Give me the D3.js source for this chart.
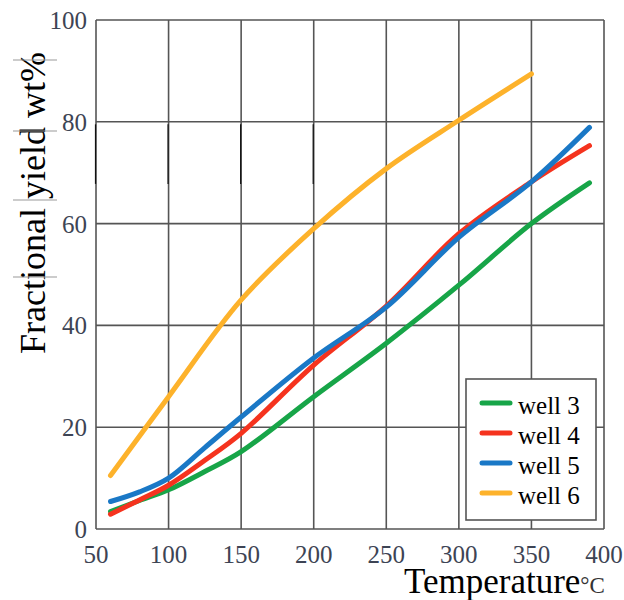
<!DOCTYPE html>
<html>
<head>
<meta charset="utf-8">
<script src="https://cdn.jsdelivr.net/npm/d3@7"></script>
<style>
  body { margin: 0; background: #fff; }
</style>
</head>
<body>
<svg id="chart" width="624" height="600"></svg>
<script>
// temperatures (°C) at which each curve was read
var temps = [60, 80, 100, 125, 150, 200, 250, 300, 350, 390];
var well3 = [3.4, 5.6, 7.7, 11.3, 15.2, 26, 36.5, 47.9, 60, 68];
var well4 = [2.9, 5.7, 8.6, 13.5, 18.8, 32.2, 43.8, 58, 68.2, 75.3];
var well5 = [5.4, 7.3, 10, 16.0, 22, 33.6, 43.6, 57.3, 68.2, 78.9];
var temps6 = [60, 100, 150, 200, 250, 300, 350];
var well6 = [10.5, 26, 45, 59, 70.8, 80.3, 89.4];
var xTicks = [50, 100, 150, 200, 250, 300, 350, 400];
var yTicks = [0, 20, 40, 60, 80, 100];
var seriesNames = ["well 3", "well 4", "well 5", "well 6"];
var seriesColors = ["#17a548", "#f5331e", "#1a78c6", "#fdb22b"];

var serif = "Liberation Serif";
var svg = d3.select("#chart");
var margin = {top: 20, right: 20, bottom: 71, left: 96};
var width = 604 - margin.left, height = 529 - margin.top;

var x = d3.scaleLinear().domain([50, 400]).range([margin.left, margin.left + width]);
var y = d3.scaleLinear().domain([0, 100]).range([margin.top + height, margin.top]);

var g = svg.append("g");

// grid
g.selectAll(".vgrid").data(xTicks).enter().append("line")
    .attr("x1", function(d) { return x(d); }).attr("x2", function(d) { return x(d); })
    .attr("y1", y(0)).attr("y2", y(100))
    .attr("stroke", "#555").attr("stroke-width", 1.6);
g.selectAll(".hgrid").data(yTicks).enter().append("line")
    .attr("y1", function(d) { return y(d); }).attr("y2", function(d) { return y(d); })
    .attr("x1", x(50)).attr("x2", x(400))
    .attr("stroke", "#555").attr("stroke-width", 1.6);

// scan artefacts on the grid
g.selectAll(".mark").data([50, 100, 150, 200]).enter().append("line")
    .attr("x1", function(d) { return x(d) - 0.5; }).attr("x2", function(d) { return x(d) - 0.5; })
    .attr("y1", y(79.5)).attr("y2", y(67.8))
    .attr("stroke", "#111").attr("stroke-width", 1.2);

// axes labels
g.selectAll(".ytick").data(yTicks).enter().append("text")
    .attr("x", x(50) - 9).attr("y", function(d) { return y(d) + 9; })
    .attr("text-anchor", "end").attr("font-family", serif).attr("font-size", 25).attr("fill", "#3d4454")
    .text(function(d) { return d; });
g.selectAll(".xtick").data(xTicks).enter().append("text")
    .attr("x", function(d) { return x(d); }).attr("y", y(0) + 34)
    .attr("text-anchor", "middle").attr("font-family", serif).attr("font-size", 25).attr("fill", "#3d4454")
    .text(function(d) { return d; });

var xt = svg.append("text").attr("x", 404).attr("y", 593)
    .attr("font-family", serif).attr("font-size", 35).attr("fill", "#000");
xt.append("tspan").text("Temperature");
xt.append("tspan").attr("font-size", 23).attr("fill", "#333").text("°C");

svg.append("text")
    .attr("transform", "translate(45,203)rotate(-90)")
    .attr("text-anchor", "middle").attr("font-family", serif).attr("font-size", 36).attr("fill", "#000")
    .text("Fractional yield wt%");
// grey scan bars across the title
svg.selectAll(".tbar").data([60, 131, 200, 277]).enter().append("line")
    .attr("x1", 13).attr("x2", 57)
    .attr("y1", function(d) { return d; }).attr("y2", function(d) { return d; })
    .attr("stroke", "#999").attr("stroke-width", 1.2);

// curves
var line = d3.line().curve(d3.curveCatmullRom.alpha(0.5))
    .x(function(d) { return x(d[0]); }).y(function(d) { return y(d[1]); });
var series = [
  d3.zip(temps, well3), d3.zip(temps, well4), d3.zip(temps, well5), d3.zip(temps6, well6)
];
g.selectAll(".curve").data(series).enter().append("path")
    .attr("d", line).attr("fill", "none")
    .attr("stroke", function(d, i) { return seriesColors[i]; })
    .attr("stroke-width", 5).attr("stroke-linecap", "round");

// legend
var lg = svg.append("g").attr("transform", "translate(466,379)");
lg.append("rect").attr("width", 130).attr("height", 141)
    .attr("fill", "#fff").attr("stroke", "#555").attr("stroke-width", 1.6);
var item = lg.selectAll(".item").data(seriesNames).enter().append("g")
    .attr("transform", function(d, i) { return "translate(0," + (24 + i * 30) + ")"; });
item.append("line").attr("x1", 16).attr("x2", 44)
    .attr("stroke", function(d, i) { return seriesColors[i]; })
    .attr("stroke-width", 5).attr("stroke-linecap", "round");
item.append("text").attr("x", 52).attr("y", 11)
    .attr("font-family", serif).attr("font-size", 25).attr("fill", "#000")
    .text(function(d) { return d; });
</script>
</body>
</html>
